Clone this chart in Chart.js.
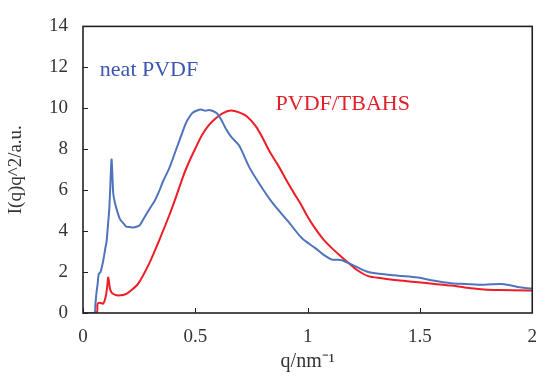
<!DOCTYPE html>
<html><head><meta charset="utf-8">
<script src="https://cdn.jsdelivr.net/npm/chart.js@4/dist/chart.umd.min.js"></script>
<style>html,body{margin:0;padding:0;background:#fff}#wrap{width:550px;height:385px}</style>
</head><body><div id="wrap"><canvas id="c" width="550" height="385"></canvas></div>
<script>
// ---- data ----
const seriesNames = ['neat PVDF', 'PVDF/TBAHS'];
const qNeat = [0, 0.05, 0.055, 0.06, 0.065, 0.07, 0.078, 0.085, 0.09, 0.1, 0.105, 0.112, 0.117, 0.122, 0.127, 0.131, 0.135, 0.142, 0.149, 0.164, 0.182, 0.193, 0.208, 0.223, 0.235, 0.252, 0.27, 0.296, 0.32, 0.341, 0.355, 0.385, 0.415, 0.44, 0.459, 0.475, 0.488, 0.505, 0.525, 0.545, 0.56, 0.575, 0.59, 0.6, 0.615, 0.636, 0.66, 0.695, 0.739, 0.783, 0.842, 0.916, 0.975, 1.034, 1.07, 1.108, 1.13, 1.152, 1.211, 1.27, 1.35, 1.403, 1.491, 1.55, 1.639, 1.7, 1.786, 1.86, 1.9, 1.934, 1.978, 2.0];
const iNeat = [0, 0, 0.4, 1.0, 1.4, 1.9, 2.0, 2.3, 2.55, 3.2, 3.5, 4.4, 5.1, 6.3, 7.5, 6.7, 5.8, 5.4, 5.1, 4.6, 4.35, 4.22, 4.2, 4.18, 4.2, 4.28, 4.6, 5.08, 5.5, 6.0, 6.4, 7.1, 8.0, 8.75, 9.3, 9.6, 9.78, 9.88, 9.94, 9.88, 9.92, 9.88, 9.8, 9.7, 9.45, 9.0, 8.6, 8.18, 7.15, 6.35, 5.4, 4.44, 3.65, 3.17, 2.85, 2.61, 2.6, 2.58, 2.29, 2.0, 1.88, 1.82, 1.73, 1.6, 1.45, 1.42, 1.38, 1.42, 1.36, 1.27, 1.21, 1.2];
const qTbahs = [0, 0.06, 0.065, 0.075, 0.09, 0.1, 0.107, 0.112, 0.116, 0.12, 0.127, 0.134, 0.145, 0.156, 0.178, 0.195, 0.208, 0.245, 0.296, 0.341, 0.385, 0.415, 0.45, 0.475, 0.503, 0.53, 0.562, 0.59, 0.621, 0.658, 0.695, 0.73, 0.768, 0.798, 0.83, 0.872, 0.9, 0.938, 0.968, 1.0, 1.034, 1.07, 1.108, 1.15, 1.181, 1.22, 1.27, 1.33, 1.4, 1.491, 1.565, 1.639, 1.7, 1.786, 1.85, 1.978, 2.0];
const iTbahs = [0, 0, 0.45, 0.5, 0.46, 0.75, 1.2, 1.73, 1.5, 1.2, 1.0, 0.94, 0.88, 0.86, 0.88, 0.95, 1.05, 1.42, 2.45, 3.6, 4.8, 5.7, 6.8, 7.45, 8.1, 8.7, 9.2, 9.5, 9.75, 9.89, 9.8, 9.6, 9.14, 8.59, 7.9, 7.15, 6.6, 5.88, 5.35, 4.7, 4.12, 3.6, 3.17, 2.75, 2.45, 2.1, 1.8, 1.7, 1.6, 1.5, 1.42, 1.34, 1.25, 1.15, 1.12, 1.1, 1.1];
const xTicks = [0, 0.5, 1, 1.5, 2];
const yTicks = [0, 2, 4, 6, 8, 10, 12, 14];
const xTitle = 'q/nm\u207B\u00B9';
const yTitle = 'I(q)q^2/a.u.';
// label anchors (data coordinates)
const labelPos = [[0.075, 11.85], [0.857, 10.18]];

const colors = ['#4f74bd', '#ee1c25'];
const textColors = ['#3a56b0', '#e2202b'];
const serif = "'Liberation Serif', 'Times New Roman', serif";

const toPts = (qs, is) => qs.map((q, k) => ({x: q, y: is[k]}));

const frame = {
  id: 'frame',
  afterDatasetsDraw(chart) {
    const {ctx, chartArea: a, scales: {x, y}} = chart;
    ctx.save();
    ctx.strokeStyle = '#222';
    ctx.lineWidth = 1;
    ctx.beginPath();
    xTicks.forEach(v => { const p = Math.round(x.getPixelForValue(v)) + 0.5; ctx.moveTo(p, a.bottom); ctx.lineTo(p, a.bottom - 5); });
    yTicks.forEach(v => { const p = Math.round(y.getPixelForValue(v)) + 0.5; ctx.moveTo(a.left, p); ctx.lineTo(a.left + 5, p); });
    ctx.stroke();
    ctx.lineWidth = 1.6;
    ctx.strokeRect(a.left, a.top, a.right - a.left, a.bottom - a.top);
    ctx.font = "22px " + serif;
    ctx.textBaseline = 'middle';
    ctx.textAlign = 'left';
    seriesNames.forEach((n, k) => {
      ctx.fillStyle = textColors[k];
      ctx.fillText(n, x.getPixelForValue(labelPos[k][0]), y.getPixelForValue(labelPos[k][1]));
    });
    ctx.restore();
  }
};

new Chart(document.getElementById('c'), {
  type: 'scatter',
  data: {
    datasets: [
      {label: seriesNames[0], data: toPts(qNeat, iNeat), showLine: true, borderColor: colors[0], borderWidth: 2, pointRadius: 0, tension: 0.3},
      {label: seriesNames[1], data: toPts(qTbahs, iTbahs), showLine: true, borderColor: colors[1], borderWidth: 2, pointRadius: 0, tension: 0.3}
    ]
  },
  options: {
    responsive: false,
    animation: false,
    layout: {padding: {left: 0, right: 15, top: 20, bottom: 0}},
    plugins: {legend: {display: false}, tooltip: {enabled: false}},
    scales: {
      x: {
        type: 'linear', min: 0, max: 2,
        afterBuildTicks: s => { s.ticks = xTicks.map(v => ({value: v})); },
        afterFit: s => { s.height = 72; },
        grid: {display: false, drawTicks: false},
        border: {display: false},
        ticks: {padding: 13, color: '#333', font: {family: serif, size: 19}, maxRotation: 0, callback: v => String(v)},
        title: {display: true, text: xTitle, color: '#333', font: {family: serif, size: 20}, padding: {top: 0, bottom: 11}}
      },
      y: {
        type: 'linear', min: 0, max: 14,
        afterBuildTicks: s => { s.ticks = yTicks.map(v => ({value: v})); },
        afterFit: s => { s.width = 83; },
        grid: {display: false, drawTicks: false},
        border: {display: false},
        ticks: {padding: 15, color: '#333', font: {family: serif, size: 19}, callback: v => String(v)},
        title: {display: true, text: yTitle, color: '#333', font: {family: serif, size: 19}, padding: {top: 5, bottom: 0}}
      }
    }
  },
  plugins: [frame]
});
</script></body></html>
